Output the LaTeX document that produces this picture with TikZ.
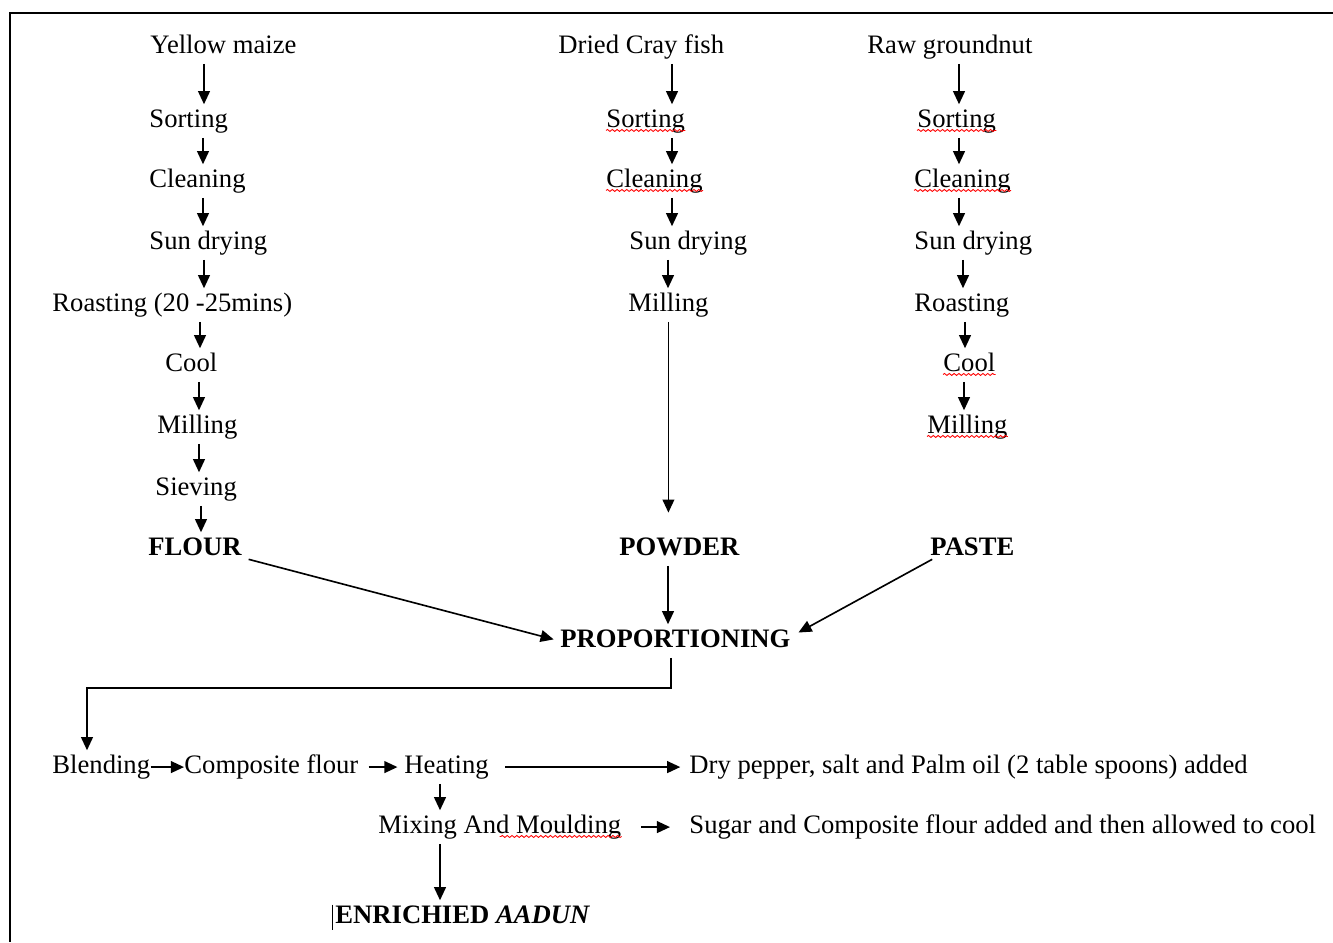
\documentclass[tikz,border=0pt]{standalone}
\usepackage{fontspec}
\setmainfont{Liberation Serif}
\usetikzlibrary{arrows.meta,decorations.pathmorphing}

\tikzset{
  lbl/.style={anchor=west, inner xsep=0pt, inner ysep=2pt, yshift=-1.4pt,
    text height=8.5pt, text depth=2.5pt, font=\fontsize{12.2}{14}\selectfont},
  hd/.style={lbl, font=\fontsize{12.2}{14}\selectfont\bfseries},
  arr/.style={-{Triangle[length=6pt,width=5.4pt]}, line width=0.75pt},
  wavy/.style={draw=red, line width=0.4pt, decorate,
    decoration={snake, amplitude=0.45pt, segment length=2.2pt}}
}

\begin{document}
\begin{tikzpicture}[x=0.458pt, y=-0.458pt]
  \useasboundingbox (0,0) rectangle (1333,942);
  \draw[line width=1pt] (1333,13) -| (10,942);

  % yellow maize
  \node[lbl] (ym) at (150,44) {Yellow maize};
  \node[lbl] (ysort) at (149,118) {Sorting};
  \node[lbl] (yclean) at (149,178) {Cleaning};
  \node[lbl] (ydry) at (149,240) {Sun drying};
  \node[lbl] (yroast) at (52,302) {Roasting (20 -25mins)};
  \node[lbl] (ycool) at (165,362) {Cool};
  \node[lbl] (ymill) at (157,424) {Milling};
  \node[lbl] (ysieve) at (155,486) {Sieving};
  \node[hd] (flour) at (148,546) {FLOUR};

  % cray fish
  \node[lbl] (cf) at (558,44) {Dried Cray fish};
  \node[lbl] (csort) at (606,118) {Sorting};
  \node[lbl] (cclean) at (606,178) {Cleaning};
  \node[lbl] (cdry) at (629,240) {Sun drying};
  \node[lbl] (cmill) at (628,302) {Milling};
  \node[hd] (powder) at (619,546) {POWDER};

  % groundnut
  \node[lbl] (gn) at (867,44) {Raw groundnut};
  \node[lbl] (gsort) at (917,118) {Sorting};
  \node[lbl] (gclean) at (914,178) {Cleaning};
  \node[lbl] (gdry) at (914,240) {Sun drying};
  \node[lbl] (groast) at (914,302) {Roasting};
  \node[lbl] (gcool) at (943,362) {Cool};
  \node[lbl] (gmill) at (927,424) {Milling};
  \node[hd] (paste) at (930,546) {PASTE};

  \node[hd] (prop) at (560,638) {PROPORTIONING};

  % final steps
  \node[lbl] (blend) at (52,764) {Blending};
  \node[lbl] (comp) at (184,764) {Composite flour};
  \node[lbl] (heat) at (404,764) {Heating};
  \node[lbl] (dry) at (689,764) {Dry pepper, salt and Palm oil (2 table spoons) added};
  \node[lbl] (mix) at (378,824) {Mixing And Moulding};
  \node[lbl] (sugar) at (689,824) {Sugar and Composite flour added and then allowed to cool};
  \node[hd] (enr) at (335,914) {ENRICHIED \textit{AADUN}};

  \foreach \a/\b/\x in {ym/ysort/204, ysort/yclean/203, yclean/ydry/203,
      ydry/yroast/204, yroast/ycool/200, ycool/ymill/199, ymill/ysieve/199,
      ysieve/flour/201, cf/csort/672, csort/cclean/672, cclean/cdry/672,
      cdry/cmill/668, gn/gsort/959, gsort/gclean/959, gclean/gdry/959,
      gdry/groast/963, groast/gcool/965, gcool/gmill/964, powder/prop/668,
      heat/mix/440, mix/enr/440}
    \draw[arr] (\a.south -| \x,0) -- (\b.north -| \x,0);

  \draw[arr, shorten >=9pt] (cmill.south) -- (cmill.south |- powder.north);
  \draw[arr, shorten >=3pt] ([xshift=3pt,yshift=3pt]flour.south east) -- (prop.west);
  \draw[arr, shorten >=4pt] ([xshift=1pt,yshift=3pt]paste.south west) -- ([yshift=2pt]prop.east);
  \coordinate (bend) at (87,688);
  \draw[arr] (prop.south -| 671,0) |- (bend) -- (blend.north -| bend);

  \draw[arr] (blend.east) -- (comp.west);
  \draw[arr, shorten <=4.5pt, shorten >=3pt] (comp.east) -- (heat.west);
  \draw[arr, shorten <=7.3pt, shorten >=4pt] (heat.east) -- (dry.west);
  \draw[arr, shorten <=9pt, shorten >=8.7pt] (mix.east) -- (sugar.west);

  % spell check marks
  \foreach \n in {csort, cclean, gsort, gclean, gcool, gmill}
    \draw[wavy] ([yshift=3.4pt]\n.south west) -- ([yshift=3.4pt]\n.south east);
  \draw[wavy] ([yshift=3.4pt]mix.south east) -- ++(-122,0);
  \draw[line width=0.5pt] ([xshift=-1pt,yshift=-2pt]enr.north west) -- ([xshift=-1pt,yshift=2pt]enr.south west);
\end{tikzpicture}
\end{document}
